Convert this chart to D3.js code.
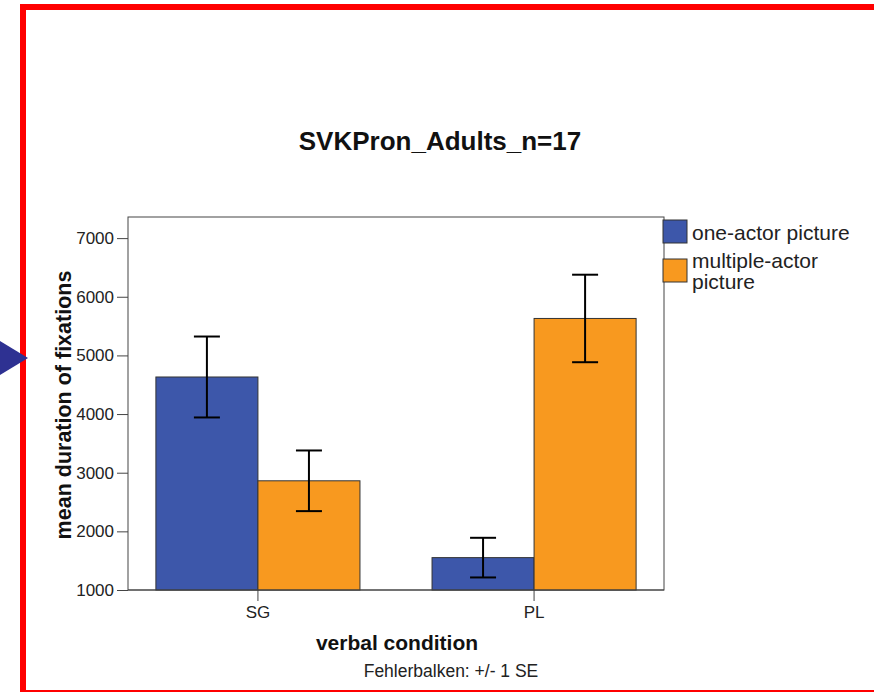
<!DOCTYPE html>
<html>
<head>
<meta charset="utf-8">
<script src="https://cdn.jsdelivr.net/npm/d3@7"></script>
<style>
  html, body { margin: 0; padding: 0; background: #fff; }
  svg { display: block; }
  text { font-family: "Liberation Sans", Arial, sans-serif; }
</style>
</head>
<body>
<svg id="chart" width="874" height="692"></svg>
<script>
const categories = ["SG", "PL"];
const seriesNames = ["one-actor picture", "multiple-actor picture"];
const oneActor = [4632, 1552];
const multipleActor = [2862, 5630];
const oneActorSE = [690, 338];
const multipleActorSE = [517, 746];
const yTicks = [1000, 2000, 3000, 4000, 5000, 6000, 7000];
const colors = ["#3D57AA", "#F8991F"];

const svg = d3.select("#chart");

// page decoration: red frame and arrow
svg.append("rect").attr("x", 23).attr("y", 7).attr("width", 900).attr("height", 686)
  .attr("fill", "none").attr("stroke", "#FF0000").attr("stroke-width", 6);
svg.append("path").attr("d", "M0,341 L28,358 L0,375 Z").attr("fill", "#2E3192");

const pLeft = 128, pRight = 664, pTop = 217, pBottom = 590;

const x0 = d3.scaleBand().domain(categories).range([pLeft, pRight])
  .paddingInner(0.261).paddingOuter(0.101);
const x1 = d3.scaleBand().domain(seriesNames).range([0, x0.bandwidth()]);
const y = d3.scaleLinear().domain([1000, 7360]).range([pBottom, pTop]);

const rows = categories.map((c, i) => ({
  cat: c,
  vals: [
    { s: seriesNames[0], v: oneActor[i], se: oneActorSE[i], color: colors[0] },
    { s: seriesNames[1], v: multipleActor[i], se: multipleActorSE[i], color: colors[1] }
  ]
}));

// plot frame
svg.append("rect").attr("x", pLeft).attr("y", pTop).attr("width", pRight - pLeft).attr("height", pBottom - pTop)
  .attr("fill", "#fff").attr("stroke", "#444").attr("stroke-width", 1);

// bars
const g = svg.append("g");
rows.forEach(r => {
  r.vals.forEach(d => {
    const bx = x0(r.cat) + x1(d.s);
    g.append("rect")
      .attr("x", bx).attr("y", y(d.v))
      .attr("width", x1.bandwidth()).attr("height", y(1000) - y(d.v))
      .attr("fill", d.color).attr("stroke", "#333").attr("stroke-width", 1);
  });
});
// error bars
rows.forEach(r => {
  r.vals.forEach(d => {
    const cx = x0(r.cat) + x1(d.s) + x1.bandwidth() / 2;
    const hi = y(d.v + d.se), lo = y(d.v - d.se);
    const eb = g.append("g").attr("stroke", "#000").attr("stroke-width", 2);
    eb.append("line").attr("x1", cx).attr("x2", cx).attr("y1", hi).attr("y2", lo);
    eb.append("line").attr("x1", cx - 13).attr("x2", cx + 13).attr("y1", hi).attr("y2", hi);
    eb.append("line").attr("x1", cx - 13).attr("x2", cx + 13).attr("y1", lo).attr("y2", lo);
  });
});

// bottom line redraw
svg.append("line").attr("x1", pLeft).attr("x2", pRight).attr("y1", pBottom).attr("y2", pBottom)
  .attr("stroke", "#444").attr("stroke-width", 1);

// y axis
const yAxis = svg.append("g").attr("transform", `translate(${pLeft},0)`)
  .call(d3.axisLeft(y).tickValues(yTicks).tickSize(11).tickSizeOuter(0).tickPadding(3).tickFormat(d3.format("d")));
yAxis.select(".domain").remove();
yAxis.selectAll(".tick line").attr("stroke", "#444");
yAxis.selectAll(".tick text").attr("font-size", 17).attr("fill", "#222")
  .style("font-family", '"Liberation Sans", Arial, sans-serif');

// x axis
const xAxis = svg.append("g").attr("transform", `translate(0,${pBottom})`)
  .call(d3.axisBottom(x0).tickSize(11).tickSizeOuter(0).tickPadding(5));
xAxis.select(".domain").remove();
xAxis.selectAll(".tick line").attr("stroke", "#444");
xAxis.selectAll(".tick text").attr("font-size", 17).attr("fill", "#222")
  .style("font-family", '"Liberation Sans", Arial, sans-serif');

// title
svg.append("text").attr("x", 440).attr("y", 150).attr("text-anchor", "middle")
  .attr("font-size", 26).attr("font-weight", "bold").attr("fill", "#111")
  .text("SVKPron_Adults_n=17");

// axis titles
svg.append("text").attr("x", 397).attr("y", 650).attr("text-anchor", "middle")
  .attr("font-size", 21).attr("font-weight", "bold").attr("fill", "#111")
  .text("verbal condition");
svg.append("text").attr("transform", "translate(71,405) rotate(-90)").attr("text-anchor", "middle")
  .attr("font-size", 21.5).attr("font-weight", "bold").attr("fill", "#111")
  .text("mean duration of fixations");
svg.append("text").attr("x", 451).attr("y", 677).attr("text-anchor", "middle")
  .attr("font-size", 17.5).attr("fill", "#222")
  .text("Fehlerbalken: +/- 1 SE");

// legend
const legend = svg.append("g");
const legY = [220, 259];
seriesNames.forEach((s, i) => {
  legend.append("rect").attr("x", 663).attr("y", legY[i]).attr("width", 24).attr("height", 23)
    .attr("fill", colors[i]).attr("stroke", "#333").attr("stroke-width", 1);
});
legend.append("text").attr("x", 692).attr("y", 240).attr("font-size", 21).attr("fill", "#222")
  .text(seriesNames[0]);
const t2 = legend.append("text").attr("x", 692).attr("y", 268).attr("font-size", 21).attr("fill", "#222");
t2.append("tspan").attr("x", 692).attr("dy", 0).text("multiple-actor");
t2.append("tspan").attr("x", 692).attr("dy", 21).text("picture");
</script>
</body>
</html>
